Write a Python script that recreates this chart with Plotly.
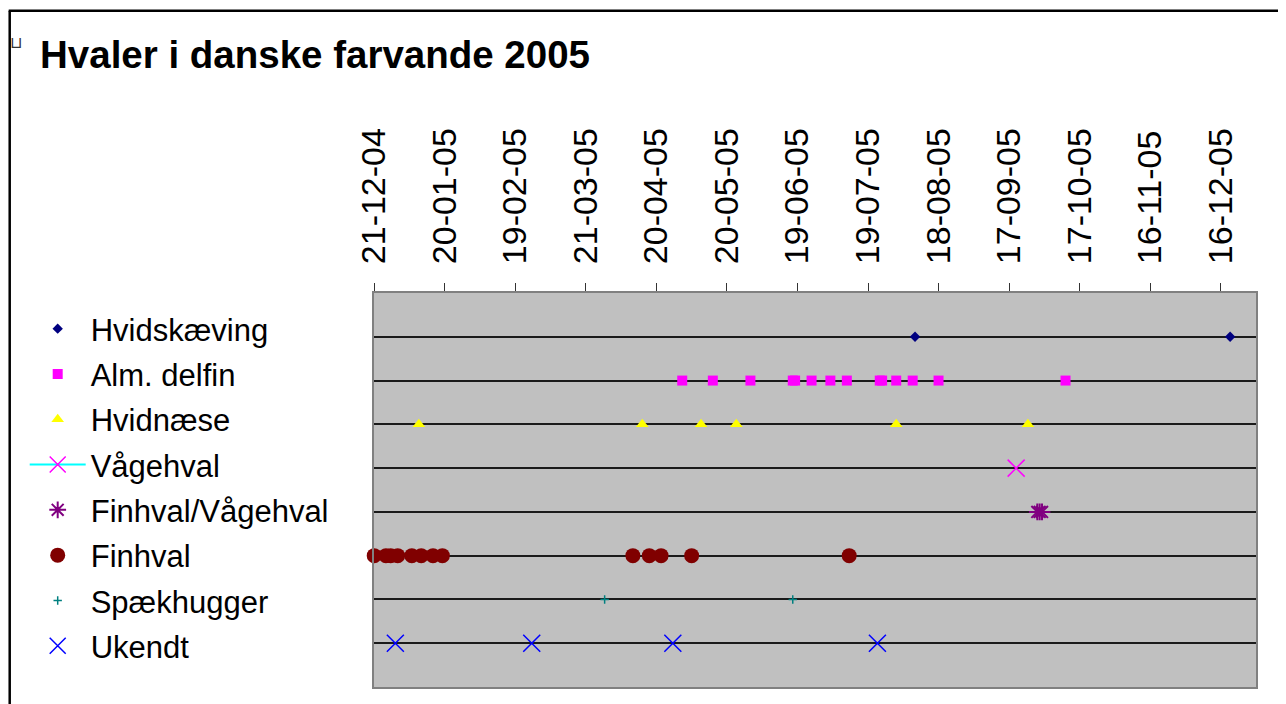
import plotly.graph_objects as go

# ---------------- data ----------------
series_names = ["Hvidskæving", "Alm. delfin", "Hvidnæse", "Vågehval",
                "Finhval/Vågehval", "Finhval", "Spækhugger", "Ukendt"]

hvidskaeving_dates = ["2005-08-08", "2005-12-20"]
alm_delfin_dates = ["2005-05-01", "2005-05-14", "2005-05-30", "2005-06-17", "2005-06-18",
                    "2005-06-25", "2005-07-03", "2005-07-10", "2005-07-24", "2005-07-25",
                    "2005-07-31", "2005-08-07", "2005-08-18", "2005-10-11"]
hvidnaese_dates = ["2005-01-09", "2005-04-14", "2005-05-09", "2005-05-24",
                   "2005-07-31", "2005-09-25"]
vaagehval_dates = ["2005-09-20"]
finhval_vaagehval_dates = ["2005-09-29", "2005-09-30", "2005-10-01"]
finhval_dates = ["2004-12-21", "2004-12-26", "2004-12-28", "2004-12-31", "2005-01-06",
                 "2005-01-10", "2005-01-15", "2005-01-19", "2005-04-10", "2005-04-17",
                 "2005-04-22", "2005-05-05", "2005-07-11"]
spaekhugger_dates = ["2005-03-29", "2005-06-17"]
ukendt_dates = ["2004-12-30", "2005-02-26", "2005-04-27", "2005-07-23"]

all_dates = [hvidskaeving_dates, alm_delfin_dates, hvidnaese_dates, vaagehval_dates,
             finhval_vaagehval_dates, finhval_dates, spaekhugger_dates, ukendt_dates]

tick_start = "2004-12-21"
axis_start = "2004-12-20 22:00"
axis_end = "2005-12-31"

# ---------------- styles ----------------
styles = [
    dict(symbol="diamond", color="#000080", size=8, mode="markers"),
    dict(symbol="square", color="#FF00FF", size=10, mode="markers"),
    dict(symbol="triangle-up", color="#FFFF00", size=11, mode="markers"),
    dict(symbol="x-thin-open", color="#FF00FF", size=17, mode="lines+markers", line="#00FFFF"),
    dict(symbol="asterisk-open", color="#800080", size=14, mode="markers"),
    dict(symbol="circle", color="#800000", size=15, mode="markers"),
    dict(symbol="cross-thin-open", color="#008080", size=6, mode="markers"),
    dict(symbol="x-thin-open", color="#0000FF", size=17, mode="markers"),
]

# page body has an 8px margin: figure coordinates = page coordinates - OFF
OFF = 8
W, H = 1278, 696
L, R, T, B = 365.5, 30, 285, 17.3
PW, PH = W - L - R, H - T - B


def px_x(px):  # page pixel -> paper
    return (px - OFF - L) / PW


def px_y(py):  # page pixel -> paper
    return (H - B - (py - OFF)) / PH


fig = go.Figure()
n = len(series_names)
for i, (name, dates, st) in enumerate(zip(series_names, all_dates, styles)):
    level = n - i
    open_sym = st["symbol"].endswith("open")
    lw = 2 if st["symbol"].startswith("asterisk") else 1.5
    marker = dict(symbol=st["symbol"], color=st["color"], size=st["size"],
                  line=dict(color=st["color"], width=lw if open_sym else 0))
    kw = {}
    if "line" in st:
        kw["line"] = dict(color=st["line"], width=2)
    fig.add_trace(go.Scatter(
        x=dates, y=[level] * len(dates), name=name, mode=st["mode"],
        marker=marker, cliponaxis=False, legendgroup=f"g{i}", **kw))

fig.update_layout(
    width=W, height=H,
    margin=dict(l=L, r=R, t=T, b=B, autoexpand=False),
    paper_bgcolor="white",
    plot_bgcolor="#C0C0C0",
    font=dict(family="Liberation Sans, Arial, sans-serif", color="black"),
    title=dict(text="Hvaler i danske farvande 2005", xref="container", yref="container",
               x=(40 - OFF) / W, y=1 - (55 - OFF) / H, xanchor="left", yanchor="middle",
               font=dict(size=38.5, weight="bold", color="black",
                         family="Liberation Sans, Arial, sans-serif")),
    showlegend=True,
    legend=dict(x=px_x(16 + OFF), y=px_y(294 + OFF), xanchor="left", yanchor="top",
                xref="paper", yref="paper",
                bgcolor="rgba(0,0,0,0)", borderwidth=0,
                font=dict(size=31, color="black"),
                itemwidth=56, tracegroupgap=2, traceorder="grouped"),
    xaxis=dict(type="date", side="top", range=[axis_start, axis_end],
               tick0=tick_start, dtick=30 * 86400000, tickformat="%d-%m-%y",
               tickangle=-90, ticks="outside", ticklen=8, tickcolor="#333333", tickwidth=1,
               ticklabelstandoff=12,
               tickfont=dict(size=34, color="black"),
               showgrid=False, showline=True, linecolor="#808080", linewidth=2, mirror=True,
               zeroline=False, fixedrange=True),
    yaxis=dict(range=[0, 9], tickvals=[1, 2, 3, 4, 5, 6, 7, 8], showticklabels=False,
               ticks="", showgrid=True, gridcolor="#1a1a1a", gridwidth=2,
               showline=True, linecolor="#808080", linewidth=2, mirror=True,
               zeroline=False, fixedrange=True),
    shapes=[
        dict(type="line", xref="paper", yref="paper", x0=px_x(8), x1=px_x(1290),
             y0=px_y(11), y1=px_y(11), line=dict(color="black", width=2.5)),
        dict(type="line", xref="paper", yref="paper", x0=px_x(9), x1=px_x(9),
             y0=px_y(11), y1=px_y(710), line=dict(color="black", width=2.5)),
    ],
    annotations=[
        dict(text="⊔", xref="paper", yref="paper", x=px_x(15), y=px_y(43),
             xanchor="center", yanchor="middle",
             showarrow=False, font=dict(size=16, color="#333333")),
    ],
)

fig.write_html("out.html")
